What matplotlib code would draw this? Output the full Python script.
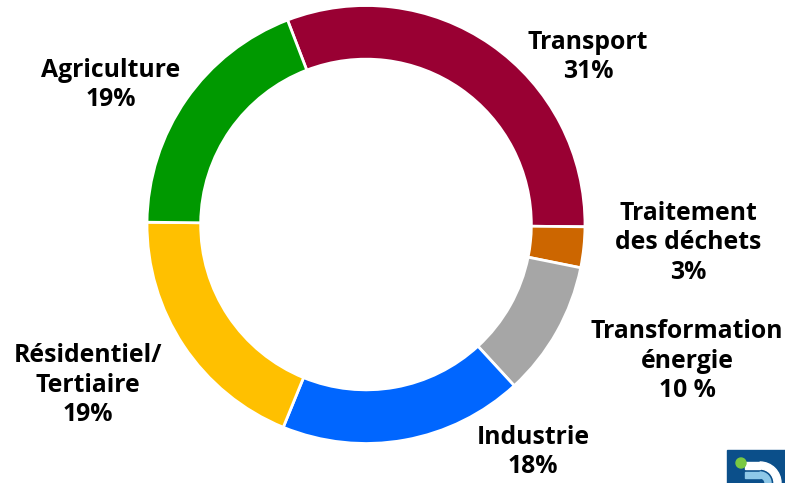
import matplotlib.pyplot as plt
from matplotlib.patches import Rectangle, Circle, Wedge

# Données (parts des émissions par secteur)
sectors = ['Transport', 'Traitement des déchets', 'Transformation énergie',
           'Industrie', 'Résidentiel/Tertiaire', 'Agriculture']
shares = [31, 3, 10, 18, 19, 19]
labels = ['Transport\n31%', 'Traitement\ndes déchets\n3%', 'Transformation\nénergie\n10 %',
          'Industrie\n18%', 'Résidentiel/\nTertiaire\n19%', 'Agriculture\n19%']
colors = ['#990033', '#CC6600', '#A6A6A6', '#0066FF', '#FFC000', '#009900']

W, H = 785, 483
fig = plt.figure(figsize=(W / 100, H / 100), dpi=100)

# centre du donut en pixels
cx, cy, r = 366, 224.5, 219
ax = fig.add_axes([(cx - r) / W, (H - cy - r) / H, 2 * r / W, 2 * r / H])
ax.pie(shares, colors=colors, startangle=111, counterclock=False, radius=1,
       wedgeprops=dict(width=0.245, edgecolor='white', linewidth=2))
ax.set_xlim(-1, 1)
ax.set_ylim(-1, 1)
ax.set_aspect('equal')
ax.axis('off')

# positions des étiquettes (pixels, centre du bloc)
label_pos = [(588, 57), (688, 243), (687, 361), (533, 452), (88, 385), (111, 85)]
for lab, (px, py) in zip(labels, label_pos):
    fig.text(px / W, 1 - py / H, lab, ha='center', va='center', fontsize=17.8,
             fontweight='bold', family='Open Sans', linespacing=1.22, color='black')

# petit logo en bas à droite (coordonnées pixels, y vers le haut)
lax = fig.add_axes([0, 0, 1, 1])
lax.set_xlim(0, W)
lax.set_ylim(0, H)
lax.axis('off')
lax.add_patch(Rectangle((727, 0), 60, 33, color='#0B4F8A'))
lax.add_patch(Wedge((760, 0), 21, 0, 90, width=7, color='white'))
lax.add_patch(Rectangle((745, 14), 15, 7, color='white'))
lax.add_patch(Wedge((760, 0), 11, 0, 90, width=6, color='#8EC8E8'))
lax.add_patch(Rectangle((745, 5), 15, 6, color='#8EC8E8'))
lax.add_patch(Circle((741, 20), 5, color='#7AC943'))

fig.savefig('out.png', dpi=100)
